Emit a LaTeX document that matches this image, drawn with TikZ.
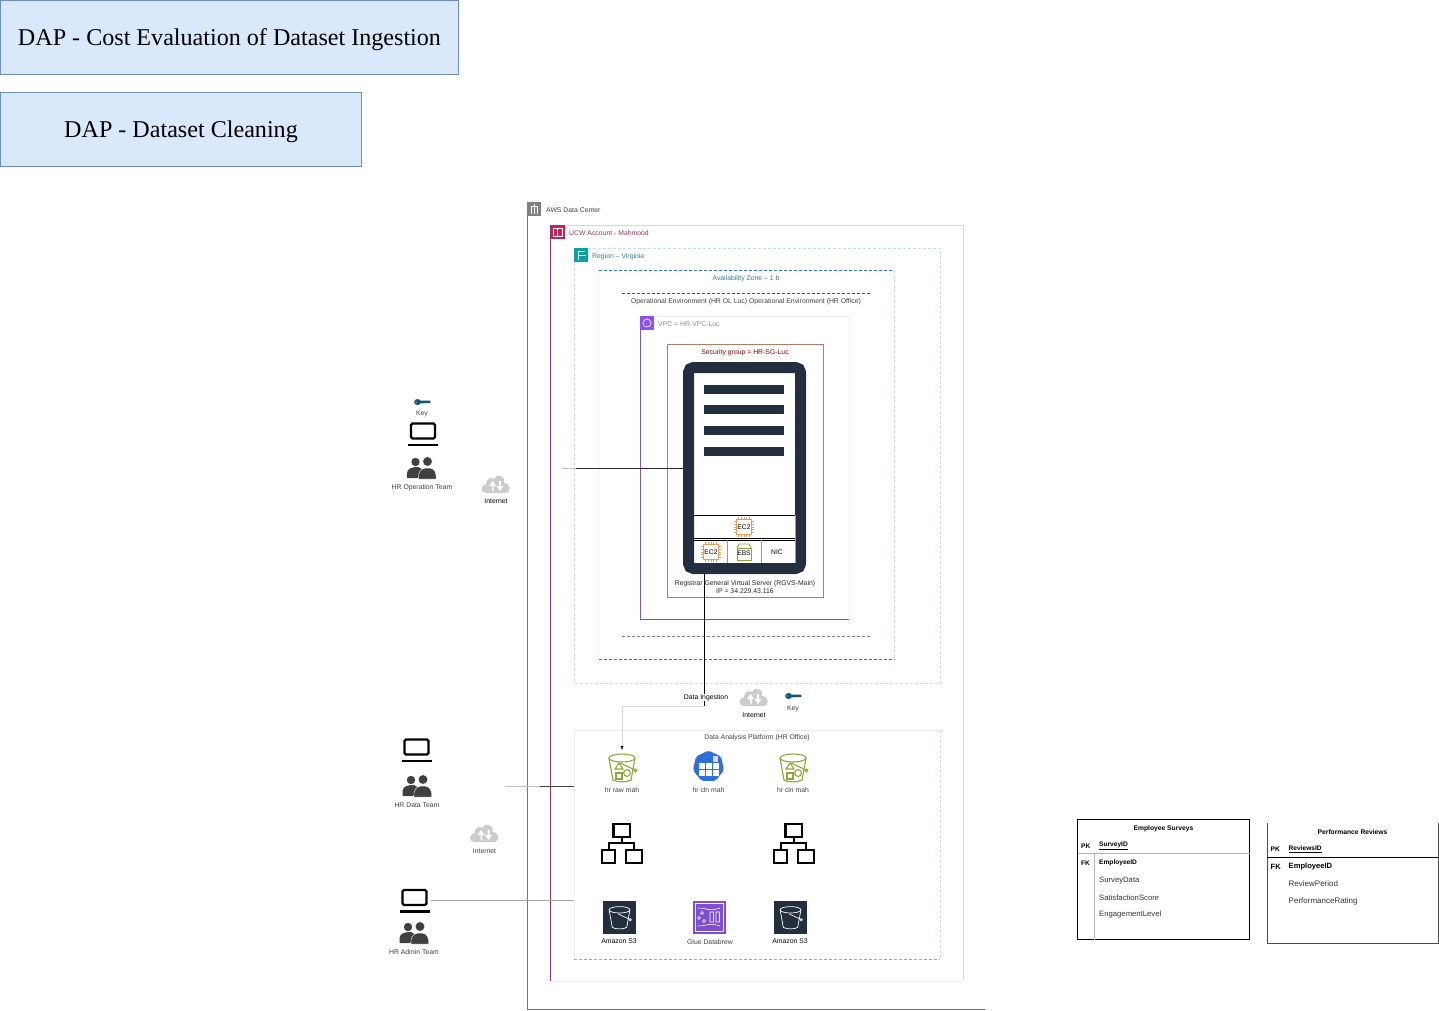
\documentclass[tikz,border=0pt]{standalone}
\usepackage{fontspec}
\setmainfont{Liberation Sans}
\newfontfamily\titlefont{Liberation Serif}
\usetikzlibrary{calc}
\usetikzlibrary{shapes.geometric}
\usetikzlibrary{arrows.meta}
\usetikzlibrary{positioning}
\definecolor{serverdark}{HTML}{232F3E}
\definecolor{chiporange}{HTML}{DFA05A}
\definecolor{bucketgreen}{HTML}{8CA63A}
\definecolor{keyblue}{HTML}{14566F}
\definecolor{regionteal}{HTML}{BFE0E6}
\definecolor{zoneteal}{HTML}{2F7F93}
\definecolor{titlefill}{HTML}{DAE8FC}
\definecolor{titleline}{HTML}{6C8EBF}
\definecolor{accountline}{HTML}{8A3A5F}
\definecolor{accountpale}{HTML}{EBCFDD}
\definecolor{accountbadge}{HTML}{C7215D}
\definecolor{regionbadge}{HTML}{05A3A3}
\definecolor{vpcpurple}{HTML}{8C4FFF}
\definecolor{vpcline}{HTML}{7A5A9A}
\definecolor{sgline}{HTML}{B5786A}
\definecolor{tableblue}{HTML}{2F6FDB}
\definecolor{brewpurple}{HTML}{7D4FD0}
\tikzset{
  titlebox/.style={rectangle, draw=titleline, fill=titlefill, minimum height=74pt, inner sep=0pt, text depth=0pt, font=\titlefont\fontsize{24.1}{26}\selectfont},
  small/.style={inner sep=0pt, yshift=-.8pt, font=\fontsize{6.85}{8.2}\selectfont, text=black!75},
  group/.style={small, anchor=west},
  badge/.style={rectangle, minimum size=14pt, inner sep=0pt},
  iconspot/.style={rectangle, minimum width=#1, minimum height=34pt, inner sep=0pt, outer sep=0pt},
  iconspot/.default=30pt,
  cell/.style={inner sep=0pt, font=\fontsize{6.7}{8}\selectfont},
  tablehead/.style={inner sep=0pt, yshift=-.5pt, font=\bfseries\fontsize{6.7}{8}\selectfont},
  rowkey/.style={inner sep=0pt, anchor=west, yshift=-.6pt, font=\bfseries\fontsize{6.6}{8}\selectfont},
  rowa/.style={inner sep=0pt, anchor=west, yshift=-.6pt, font=\fontsize{7.7}{9}\selectfont, text=black!80},
  rowb/.style={inner sep=0pt, anchor=west, yshift=-.6pt, font=\fontsize{8}{9}\selectfont, text=black!80},
  laptop/.pic={
    \draw[line width=2.2pt, rounded corners=1.5pt] (-12,-10) rectangle (12,5);
    \draw[line width=2.2pt] (-15,11.5) -- (15,11.5);
  },
  people/.pic={
    \fill[black!75] (-6,-6) circle (4.2);
    \fill[black!75] (-14.5,10) -- (-14.5,5) .. controls (-14,0) and (-9,-1) .. (-3,-1) -- (2,2) -- (-4,10) -- cycle;
    \fill[black!75,draw=white] (6,-6.5) circle (4.8);
    \fill[black!75,draw=white] (-3,11) -- (-3,7) .. controls (-2,1) and (2,0) .. (6,0) .. controls (10,0) and (14,1) .. (14.5,7) -- (14.5,11) -- cycle;
  },
  netcloud/.pic={
    \fill[black!20] (-10,9) .. controls (-16,9) and (-16,1) .. (-10,0) .. controls (-10,-6) and (-4,-7) .. (-2,-5) .. controls (0,-11) and (10,-9) .. (8,-1) .. controls (15,-1) and (16,9) .. (9,9) -- cycle;
    \fill[white] (-4,7) -- (-4,2) -- (-7,2) -- (-3.5,-3) -- (0,2) -- (-2.5,2) -- (-2.5,7) -- cycle;
    \fill[white] (3,-3) -- (3,2) -- (0.5,2) -- (4,7) -- (7.5,2) -- (5,2) -- (5,-3) -- cycle;
  },
  keyicon/.pic={
    \fill[keyblue] (-4.5,0) ellipse (3.4 and 3);
    \fill[keyblue] (-3,-1.4) -- (8,-1.4) -- (8.5,0) -- (8,1) -- (-3,1.4) -- cycle;
    \fill[white] (-6,0) circle (0.7);
  },
  hierarchy/.pic={
    \draw[line width=2.2pt] (-8.5,-20) rectangle (8,-7);
    \draw[line width=2.2pt] (-20,6) rectangle (-7,19);
    \draw[line width=2.2pt] (4,6) rectangle (20,19);
    \draw[line width=2.2pt] (0,-7) -- (0,-1) (-13,6) -- (-13,-1) -- (12,-1) -- (12,6);
  },
  bucketshape/.pic={
    \draw (0,-9) ellipse (13 and 4);
    \draw (-13,-9) -- (-9,13) .. controls (-5,15.5) and (5,15.5) .. (9,13) -- (13,-9);
    \draw (-2,-4) -- (13,3);
    \draw (13.5,3.5) circle (1.4);
  },
  shapesinbucket/.pic={
    \draw (-7,2) -- (-3,-4) -- (1,2) -- cycle;
    \draw (-6,6) rectangle (0,12);
    \draw (5,6) circle (3.4);
  },
  chip/.pic={
    \draw[chiporange, line width=1.1pt, fill=white] (-8,-8) rectangle (8,8);
    \foreach \tick in {-6,-3,0,3,6} {
      \draw[chiporange, line width=.8pt] (\tick,-11) -- (\tick,-8) (\tick,8) -- (\tick,11) (-11,\tick) -- (-8,\tick) (8,\tick) -- (11,\tick);
    }
  }
}

\begin{document}
\begin{tikzpicture}[x=1pt, y=-1pt]
	\useasboundingbox (0,0) rectangle (1439,1010);

	% Titles
	\node[titlebox, minimum width=458pt] (titlecost) at (229.5,37.5) {DAP - Cost Evaluation of Dataset Ingestion};
	\node[titlebox, minimum width=361pt] (titleclean) at (181,129) {DAP - Dataset Cleaning};

	% Frames
	\draw[black!55, line width=.8pt] (527.5,202) -- (527.5,1009.5) -- (985,1009.5);
	\draw[accountpale] (550.5,225) -- (963,225) -- (963,981);
	\draw[black!6] (963,981) -- (550.5,981);
	\draw[accountline, line width=.8pt] (550.5,225) -- (550.5,981);
	\draw[regionteal, densely dashed] (574.5,248) rectangle (940,683);
	\draw[black!6] (598.5,270) -- (598.5,659);
	\draw[zoneteal, densely dashed] (598.5,270) -- (894.5,270);
	\draw[regionteal, densely dashed] (894.5,270) -- (894.5,659);
	\draw[zoneteal, densely dashed] (598.5,659) -- (894.5,659);
	\draw[black!70, densely dashed] (622,293.5) -- (870,293.5);
	\draw[black!50, densely dashed] (622,636) -- (870,636);
	\draw[black!6] (640,316) -- (849,316) -- (849,619);
	\draw[vpcline] (640,316) -- (640,619.5) -- (849,619.5);
	\draw[sgline] (667,344.5) rectangle (823.5,597);

	% Frame labels
	\node[badge, fill=black!50] (awsbadge) at (534,209) {};
	\node[group] (awslabel) at (546,209.5) {AWS Data Center};
	\node[badge, fill=accountbadge] (accountmark) at (557.5,232) {};
	\node[group, text=accountline] (accountlabel) at (569,232.5) {UCW Account - Mahmood};
	\node[badge, fill=regionbadge] (regionmark) at (581,255) {};
	\node[group, text=zoneteal] (regionlabel) at (592,255.5) {Region – Virginia};
	\node[small, text=zoneteal] (zonelabel) at (746,278) {Availability Zone – 1 b};
	\node[small] (envlabel) at (746,301) {Operational Environment (HR OL Luc) Operational Environment (HR Office)};
	\node[badge, fill=vpcpurple] (vpcbadge) at (647,323) {};
	\node[group, text=black!45] (vpclabel) at (658,323.5) {VPC = HR-VPC-Luc};
	\node[small, text=red!55!black] (sglabel) at (745,352) {Security group = HR-SG-Luc};
	\draw[white, line width=.8pt] (531,214) -- (531,206) -- (537,206) -- (537,214) (534,204) -- (534,214);
	\draw[white, line width=.7pt] (553,228) rectangle (562,236) (557.5,228) -- (557.5,236);
	\draw[white, line width=.7pt] (578,251) -- (578,260) (578,255) -- (586,255) (578,251) -- (585,251);
	\draw[white, line width=.7pt] (647,323) circle (4);

	% Server
	\node[rectangle, draw=serverdark, line width=11pt, rounded corners=5pt, fill=white, minimum width=112pt, minimum height=201pt, inner sep=0pt, outer sep=5.5pt] (server) at (744.5,468) {};
	\foreach \slot in {389,409.5,430.5,451.5} {
		\fill[serverdark] (704,\slot-4.5) rectangle (784,\slot+4.5);
	}
	\draw[black, line width=.9pt] (694,515.5) -- (795,515.5);
	\draw[black, line width=.9pt] (694,538) -- (795,538) (694,540.5) -- (795,540.5);
	\draw[black!40] (727,540) -- (727,563) (761,540) -- (761,563) (795,515) -- (795,563);
	\pic[scale=.95] at (744,527) {chip};
	\pic[scale=.95] at (711,552) {chip};
	\draw[bucketgreen, line width=.9pt, fill=white] (737,548) rectangle (751,560);
	\draw[bucketgreen, line width=.9pt] (737,548) -- (739,544) -- (749,544) -- (751,548);
	\node[cell] (ecupper) at (744,527) {EC2};
	\node[cell] (eclower) at (711,552) {EC2};
	\node[cell] (ebs) at (744,553) {EBS};
	\node[cell] (nic) at (777,552) {NIC};
	\node[small, align=center, text=black!85] (servercaption) at (745,586) {Registrar General Virtual Server (RGVS-Main)\\IP = 34.229.43.116};

	% Users
	\pic at (422,402) {keyicon};
	\node[small] (keyops) at (422,413) {Key};
	\node[iconspot=33pt] (laptopops) at (423,433.5) {};
	\pic at (laptopops) {laptop};
	\node[iconspot] (peopleops) at (421.5,468) {};
	\pic at (peopleops) {people};
	\node[small] (opslabel) at (422,486.5) {HR Operation Team};
	\pic at (496,484) {netcloud};
	\node[small, text=black] (internetops) at (496,500.5) {Internet};

	\node[iconspot=33pt] (laptopdata) at (416.5,749.5) {};
	\pic at (laptopdata) {laptop};
	\node[iconspot] (peopledata) at (417,786) {};
	\pic at (peopledata) {people};
	\node[small] (datalabel) at (417,804.5) {HR Data Team};
	\pic at (484.5,833) {netcloud};
	\node[small] (internetdata) at (484.5,850) {Internet};

	\node[iconspot=33pt] (laptopadmin) at (414.5,900) {};
	\pic at (laptopadmin) {laptop};
	\node[iconspot] (peopleadmin) at (414,933) {};
	\pic at (peopleadmin) {people};
	\node[small] (adminlabel) at (414,951.5) {HR Admin Team};

	% Data ingestion
	\pic at (754,697) {netcloud};
	\node[small, text=black] (internetingest) at (754,714.5) {Internet};
	\pic at (793,696) {keyicon};
	\node[small] (keyingest) at (793,708) {Key};
	\coordinate (ingestturn) at (704,706);

	% Platform
	\node[rectangle, minimum width=366pt, minimum height=229pt, inner sep=0pt, outer sep=0pt] (platform) at (757,844.5) {};
	\draw[black!8] (platform.south west) -- (platform.north west) -- (platform.north east);
	\draw[regionteal, densely dashed] (platform.north east) -- (platform.south east);
	\draw[black!35, densely dashed] (platform.south west) -- (platform.south east);
	\node[small] (platformlabel) at (757,736.5) {Data Analysis Platform (HR Office)};

	\node[iconspot] (rawbucket) at (622,767) {};
	\pic[bucketgreen, line width=1.1pt] at (rawbucket) {bucketshape};
	\pic[bucketgreen, line width=1.1pt] at (rawbucket) {shapesinbucket};
	\node[small] (rawlabel) at (622,789.5) {hr raw mah};
	\node[regular polygon, regular polygon sides=7, rounded corners=2pt, fill=tableblue, minimum size=32pt, inner sep=0pt] (cleantable) at (708.5,766.5) {};
	\foreach \col in {-7,0,7} {
		\foreach \row in {-1,6} {
			\fill[white] (708.5+\col-3,766.5+\row-3) rectangle (708.5+\col+3,766.5+\row+3);
		}
	}
	\fill[white!85!blue] (712.5,756) rectangle (718,761.5);
	\node[small] (cleanlabel) at (708.5,789.5) {hr cln mah};
	\node[iconspot] (cleanbucket) at (793,767) {};
	\pic[bucketgreen, line width=1.1pt] at (cleanbucket) {bucketshape};
	\pic[bucketgreen, line width=1.1pt] at (cleanbucket) {shapesinbucket};
	\node[small] (cleanbucketlabel) at (793,789.5) {hr cln mah};

	\node[iconspot=44pt] (hierarchyleft) at (622,844) {};
	\pic at (hierarchyleft) {hierarchy};
	\node[iconspot=44pt] (hierarchyright) at (794,844) {};
	\pic at (hierarchyright) {hierarchy};

	\node[rectangle, fill=serverdark, minimum size=33pt, inner sep=0pt] (sthreeleft) at (619.5,917) {};
	\pic[white, line width=.7pt, scale=.8] at (sthreeleft) {bucketshape};
	\node[small, text=black] (sthreeleftlabel) at (619,940) {Amazon S3};
	\node[rectangle, fill=brewpurple, minimum size=33pt, inner sep=0pt] (databrew) at (709,917) {};
	\draw[white, line width=.6pt] (695,903) rectangle (723,931);
	\draw[white, line width=.6pt] (698,908) .. controls (708,908) and (708,912) .. (720,908) (698,926) .. controls (708,926) and (708,922) .. (720,926);
	\draw[white, line width=.6pt] (710,912) rectangle (713.5,922) (716,912) rectangle (719.5,922) (702,913) circle (1.5) (699,918) circle (1.5) (704,921) circle (1.5);
	\node[small] (databrewlabel) at (710,941.5) {Glue Databrew};
	\node[rectangle, fill=serverdark, minimum size=33pt, inner sep=0pt] (sthreeright) at (790.5,917) {};
	\pic[white, line width=.7pt, scale=.8] at (sthreeright) {bucketshape};
	\node[small, text=black] (sthreerightlabel) at (790,940) {Amazon S3};

	% Tables
	\draw[black] (1077.5,819.5) rectangle (1249.5,939.5);
	\draw[black!30] (1077.5,853.5) -- (1249.5,853.5);
	\draw[black!30] (1094.5,853.5) -- (1094.5,939.5);
	\node[tablehead] (surveyhead) at (1163.5,828) {Employee Surveys};
	\node[rowkey] (surveypk) at (1081,845.5) {PK};
	\node[rowkey] (surveyid) at (1099,845.5) {\underline{SurveyID}};
	\node[rowkey] (surveyfk) at (1081,862.5) {FK};
	\node[rowkey] (surveyemp) at (1099,862.5) {EmployeeID};
	\node[rowa] (surveydata) at (1099,880) {SurveyData};
	\node[rowa] (surveyscore) at (1099,897) {SatisfactionScore};
	\node[rowa] (surveylevel) at (1099,914) {EngagementLevel};

	\draw[black!70] (1267,823) -- (1267,943.5) -- (1438.5,943.5) -- (1438.5,823);
	\draw[black] (1267,857.5) -- (1438.5,857.5);
	\node[tablehead] (reviewhead) at (1352.5,831.5) {Performance Reviews};
	\node[rowkey] (reviewpk) at (1270.5,848.5) {PK};
	\node[rowkey] (reviewid) at (1288.5,848.5) {\underline{ReviewsID}};
	\node[rowkey, font=\bfseries\fontsize{7.6}{9}\selectfont] (reviewfk) at (1270.5,866) {FK};
	\node[rowkey, font=\bfseries\fontsize{7.6}{9}\selectfont] (reviewemp) at (1288.5,866) {EmployeeID};
	\node[rowb] (reviewperiod) at (1288.5,883.5) {ReviewPeriod};
	\node[rowb] (reviewrating) at (1288.5,900.5) {PerformanceRating};

	% Arrows
	\coordinate (opsstub) at (562,468);
	\coordinate (opsmid) at (576,468);
	\coordinate (datastub) at (505,786);
	\coordinate (datamid) at (540,786);
	\draw[black!25] (opsstub) -- (opsmid);
	\draw[black!85] (opsmid) -- (opsmid -| server.west);
	\draw[black!25] (datastub) -- (datamid);
	\draw[black!75] (datamid) -- (datamid -| platform.west);
	\draw[black!35] (laptopadmin.east) -- (laptopadmin.east -| platform.west);
	\draw[black!15, -{Latex[length=4pt, color=black]}] (ingestturn) -| (rawbucket.north);
	\draw[black, line width=.8pt] (ingestturn |- server.south) -- (ingestturn);
	\node[small, fill=white, text=black] (ingestlabel) at (706,696.5) {Data Ingestion};
\end{tikzpicture}
\end{document}
